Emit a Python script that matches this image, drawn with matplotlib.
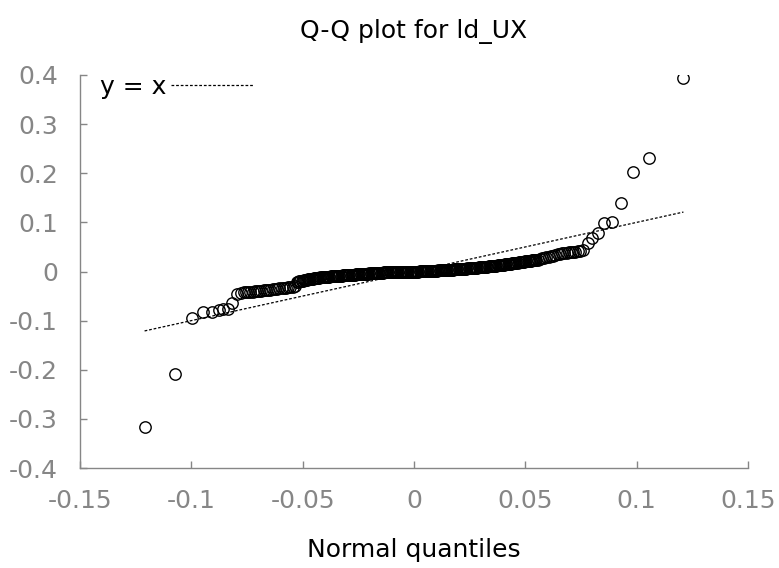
import numpy as np
import matplotlib
matplotlib.use("Agg")
import matplotlib.pyplot as plt
from matplotlib.ticker import FuncFormatter

plt.rcParams['font.family'] = ['DejaVu Sans']
plt.rcParams['axes.unicode_minus'] = False

# normal quantiles (x) and sorted sample values of ld_UX (y)
lower_x = [-0.1210, -0.1073, -0.0997, -0.0947, -0.0907, -0.0876, -0.0858, -0.0835, -0.0817, -0.0795, -0.0777]
lower_y = [-0.316, -0.208, -0.094, -0.082, -0.082, -0.078, -0.076, -0.076, -0.065, -0.045, -0.043]

band_a_x = [-0.0765, -0.0755, -0.0745, -0.0735, -0.0725, -0.0715, -0.0705, -0.0695, -0.0685, -0.0675,
            -0.0665, -0.0655, -0.0645, -0.0635, -0.0625, -0.0615, -0.0605, -0.0595, -0.0585, -0.0575,
            -0.0565, -0.0555, -0.0545, -0.0535]
band_a_y = [-0.042, -0.042, -0.041, -0.041, -0.041, -0.040, -0.040, -0.039, -0.039, -0.038,
            -0.038, -0.037, -0.037, -0.036, -0.036, -0.035, -0.034, -0.034, -0.033, -0.033,
            -0.032, -0.032, -0.031, -0.030]

band_b_x = [-0.0525, -0.0520, -0.0515, -0.0510, -0.0505, -0.0500, -0.0495, -0.0490, -0.0485, -0.0480,
            -0.0475, -0.0470, -0.0465, -0.0460, -0.0455, -0.0450, -0.0445, -0.0440, -0.0435, -0.0430,
            -0.0425, -0.0420, -0.0415, -0.0410, -0.0405, -0.0400, -0.0395, -0.0390, -0.0385, -0.0380,
            -0.0375, -0.0370, -0.0365, -0.0360, -0.0355, -0.0350, -0.0345, -0.0340, -0.0335, -0.0330,
            -0.0325, -0.0320, -0.0315, -0.0310, -0.0305, -0.0300, -0.0295, -0.0290, -0.0285, -0.0280,
            -0.0275, -0.0270, -0.0265, -0.0260, -0.0255, -0.0250, -0.0245, -0.0240, -0.0235, -0.0230,
            -0.0225, -0.0220, -0.0215, -0.0210, -0.0205, -0.0200, -0.0195, -0.0190, -0.0185, -0.0180,
            -0.0175, -0.0170, -0.0165, -0.0160, -0.0155, -0.0150, -0.0145, -0.0140, -0.0135, -0.0130,
            -0.0125, -0.0120, -0.0115, -0.0110, -0.0105, -0.0100, -0.0095, -0.0090, -0.0085, -0.0080,
            -0.0075, -0.0070, -0.0065, -0.0060, -0.0055, -0.0050, -0.0045, -0.0040, -0.0035, -0.0030,
            -0.0025, -0.0020, -0.0015, -0.0010, -0.0005, 0.0000, 0.0005, 0.0010, 0.0015, 0.0020,
            0.0025, 0.0030, 0.0035, 0.0040, 0.0045, 0.0050, 0.0055, 0.0060, 0.0065, 0.0070,
            0.0075, 0.0080, 0.0085, 0.0090, 0.0095, 0.0100, 0.0105, 0.0110, 0.0115, 0.0120,
            0.0125, 0.0130, 0.0135, 0.0140, 0.0145, 0.0150, 0.0155, 0.0160, 0.0165, 0.0170,
            0.0175, 0.0180, 0.0185, 0.0190, 0.0195, 0.0200, 0.0205, 0.0210, 0.0215, 0.0220,
            0.0225, 0.0230, 0.0235, 0.0240, 0.0245, 0.0250, 0.0255, 0.0260, 0.0265, 0.0270,
            0.0275, 0.0280, 0.0285, 0.0290, 0.0295, 0.0300, 0.0305, 0.0310, 0.0315, 0.0320,
            0.0325, 0.0330, 0.0335, 0.0340, 0.0345, 0.0350, 0.0355, 0.0360, 0.0365, 0.0370,
            0.0375, 0.0380, 0.0385, 0.0390, 0.0395, 0.0400, 0.0405, 0.0410, 0.0415, 0.0420,
            0.0425, 0.0430, 0.0435, 0.0440, 0.0445, 0.0450, 0.0455, 0.0460, 0.0465, 0.0470,
            0.0475, 0.0480, 0.0485, 0.0490, 0.0495, 0.0500, 0.0505, 0.0510, 0.0515, 0.0520,
            0.0525, 0.0530, 0.0535, 0.0540, 0.0545, 0.0550, 0.0555]
band_b_y = [-0.022, -0.021, -0.020, -0.020, -0.019, -0.019, -0.018, -0.018, -0.017, -0.017,
            -0.016, -0.016, -0.015, -0.015, -0.015, -0.014, -0.014, -0.014, -0.013, -0.013,
            -0.013, -0.012, -0.012, -0.012, -0.012, -0.011, -0.011, -0.011, -0.011, -0.011,
            -0.010, -0.010, -0.010, -0.010, -0.010, -0.009, -0.009, -0.009, -0.009, -0.009,
            -0.009, -0.008, -0.008, -0.008, -0.008, -0.008, -0.008, -0.007, -0.007, -0.007,
            -0.007, -0.007, -0.007, -0.006, -0.006, -0.006, -0.006, -0.006, -0.006, -0.005,
            -0.005, -0.005, -0.005, -0.005, -0.005, -0.004, -0.004, -0.004, -0.004, -0.004,
            -0.004, -0.003, -0.003, -0.003, -0.003, -0.003, -0.003, -0.003, -0.002, -0.002,
            -0.002, -0.002, -0.002, -0.002, -0.002, -0.002, -0.001, -0.001, -0.001, -0.001,
            -0.001, -0.001, -0.001, -0.001, -0.001, 0.000, 0.000, 0.000, 0.000, 0.000,
            0.000, 0.000, 0.000, 0.000, 0.000, 0.000, 0.000, 0.000, 0.000, 0.000,
            0.001, 0.001, 0.001, 0.001, 0.001, 0.001, 0.001, 0.001, 0.001, 0.002,
            0.002, 0.002, 0.002, 0.002, 0.002, 0.002, 0.002, 0.003, 0.003, 0.003,
            0.003, 0.003, 0.003, 0.003, 0.003, 0.004, 0.004, 0.004, 0.004, 0.004,
            0.004, 0.005, 0.005, 0.005, 0.005, 0.005, 0.005, 0.006, 0.006, 0.006,
            0.006, 0.006, 0.006, 0.007, 0.007, 0.007, 0.007, 0.007, 0.008, 0.008,
            0.008, 0.008, 0.008, 0.009, 0.009, 0.009, 0.009, 0.010, 0.010, 0.010,
            0.010, 0.010, 0.011, 0.011, 0.011, 0.011, 0.012, 0.012, 0.012, 0.012,
            0.013, 0.013, 0.013, 0.013, 0.014, 0.014, 0.014, 0.015, 0.015, 0.015,
            0.016, 0.016, 0.016, 0.017, 0.017, 0.017, 0.018, 0.018, 0.018, 0.019,
            0.019, 0.019, 0.020, 0.020, 0.020, 0.021, 0.021, 0.021, 0.022, 0.022,
            0.022, 0.023, 0.023, 0.023, 0.024, 0.024, 0.024]

band_c_x = [0.0565, 0.0575, 0.0585, 0.0595, 0.0605, 0.0615, 0.0625, 0.0635, 0.0645, 0.0655,
            0.0665, 0.0675, 0.0685, 0.0695, 0.0705, 0.0715, 0.0725, 0.0735, 0.0745]
band_c_y = [0.026, 0.027, 0.028, 0.029, 0.030, 0.031, 0.032, 0.034, 0.035, 0.036,
            0.037, 0.038, 0.038, 0.039, 0.039, 0.040, 0.040, 0.041, 0.041]

upper_x = [0.0759, 0.0781, 0.0799, 0.0826, 0.0853, 0.0889, 0.0930, 0.0983, 0.1055, 0.1210]
upper_y = [0.043, 0.059, 0.069, 0.078, 0.098, 0.100, 0.139, 0.202, 0.231, 0.394]

x_ticks = [-0.15, -0.1, -0.05, 0, 0.05, 0.1, 0.15]
y_ticks = [-0.4, -0.3, -0.2, -0.1, 0, 0.1, 0.2, 0.3, 0.4]

norm_q = np.array(lower_x + band_a_x + band_b_x + band_c_x + upper_x)
sample_q = np.array(lower_y + band_a_y + band_b_y + band_c_y + upper_y)

grey = '#868686'

fig = plt.figure(figsize=(7.79, 5.68), dpi=100)
ax = fig.add_axes([80/779, 1 - 468/568, 668/779, 393/568])

ax.plot(norm_q, sample_q, linestyle='none', marker='o', markersize=8.2,
        markerfacecolor='none', markeredgecolor='black', markeredgewidth=1.0)
ax.plot([norm_q.min(), norm_q.max()], [norm_q.min(), norm_q.max()],
        color='black', linewidth=0.9, linestyle=(0, (2.2, 1.5)), label='y = x')

ax.set_xlim(-0.15, 0.15)
ax.set_ylim(-0.4, 0.4)
ax.set_xticks(x_ticks)
ax.set_yticks(y_ticks)
fmt = FuncFormatter(lambda v, p: '{:g}'.format(round(v, 3)))
ax.xaxis.set_major_formatter(fmt)
ax.yaxis.set_major_formatter(fmt)

for s in ['top', 'right']:
    ax.spines[s].set_visible(False)
for s in ['left', 'bottom']:
    ax.spines[s].set_color(grey)
    ax.spines[s].set_linewidth(1.0)
ax.tick_params(axis='both', direction='in', length=5, width=1, color=grey,
               labelcolor=grey, labelsize=18)
ax.tick_params(axis='x', pad=15)
ax.tick_params(axis='y', pad=16)

ax.legend(loc='upper left', bbox_to_anchor=(0.03, 1.0), frameon=False, fontsize=18,
          markerfirst=False, handlelength=3.3, handletextpad=0.2, borderpad=0, borderaxespad=0)

fig.text(414/779, 1 - 32/568, 'Q-Q plot for ld_UX', ha='center', va='center', fontsize=18)
fig.text(414/779, 1 - 550/568, 'Normal quantiles', ha='center', va='center', fontsize=18)

fig.savefig('out.png', dpi=100)
